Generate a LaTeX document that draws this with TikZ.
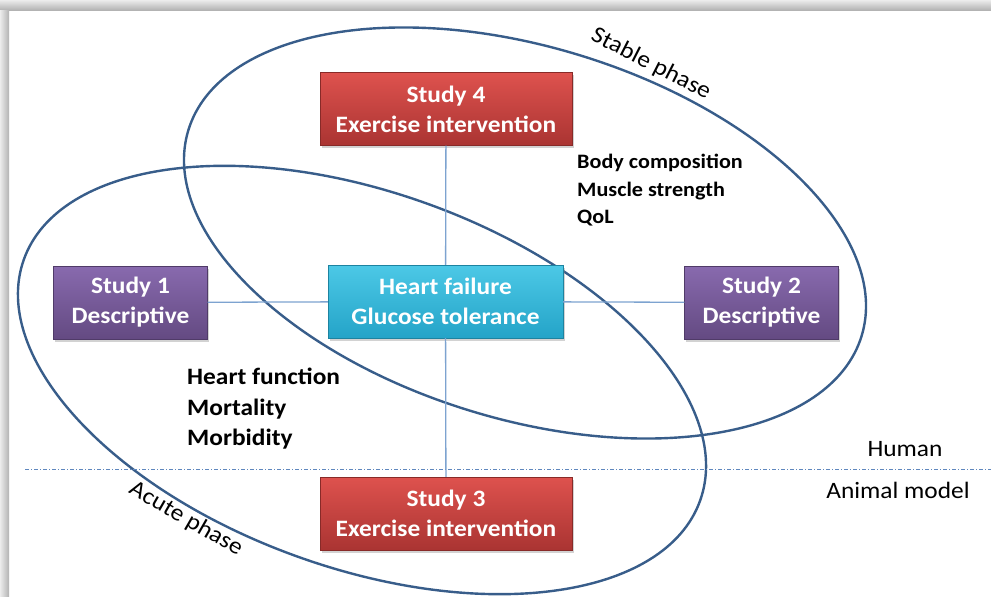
\documentclass[tikz,border=0pt]{standalone}
\usepackage{fontspec}
\setmainfont{Carlito}[FakeStretch=1.08]
\usepackage{tikz}
\usetikzlibrary{shadows}
\definecolor{ringblue}{RGB}{56,93,138}
\definecolor{linkblue}{RGB}{125,163,208}
\definecolor{splitblue}{RGB}{95,135,190}
\definecolor{redtop}{RGB}{222,82,78}
\definecolor{redbot}{RGB}{170,52,50}
\definecolor{purtop}{RGB}{136,106,174}
\definecolor{purbot}{RGB}{100,74,130}
\definecolor{cyantop}{RGB}{76,200,230}
\definecolor{cyanbot}{RGB}{36,164,200}
\tikzstyle{boxed} = [text=white,font=\fontsize{23.5}{30}\selectfont\bfseries,align=center,minimum height=73pt,inner sep=0pt,drop shadow={shadow xshift=1.5pt,shadow yshift=-2.5pt,opacity=0.35}]
\tikzstyle{exer} = [boxed,draw=redbot!80!black,top color=redtop,bottom color=redbot,minimum width=252pt]
\tikzstyle{desc} = [boxed,draw=purbot!80!black,top color=purtop,bottom color=purbot,minimum width=154pt]
\tikzstyle{hub} = [boxed,draw=cyanbot!80!black,top color=cyantop,bottom color=cyanbot,minimum width=235pt]
\tikzstyle{ring} = [draw=ringblue,line width=2.4pt]
\tikzstyle{link} = [draw=linkblue,line width=1.3pt]
\tikzstyle{outcome} = [align=left,anchor=north west,inner sep=0pt]
\tikzstyle{plain} = [font=\fontsize{23.5}{28}\selectfont]

\begin{document}
\begin{tikzpicture}[x=1pt,y=-1pt]

% page and frame
    \useasboundingbox (0,0) rectangle (991,597);
    \fill[white] (0,0) rectangle (991,597);
    \shade[top color=gray!15,bottom color=gray!60] (0,0) rectangle (991,10);
    \shade[left color=gray!15,right color=gray!60] (0,10) rectangle (9,597);

% phases
    \draw[ring,rotate around={-17:(525,233)}] (525,233) ellipse (352 and 186);
    \draw[ring,rotate around={-19.6:(362,380)}] (362,380) ellipse (359 and 188);
    \node[plain,rotate=-27] at (651,64) (stable) {Stable phase};
    \node[plain,rotate=-30] at (186,519) (acute) {Acute phase};

% human / animal split
    \coordinate (splitw) at (25,469);
    \coordinate (splite) at (991,469);
    \draw[splitblue,line width=0.9pt,dash pattern=on 4pt off 2pt on 1pt off 2pt] (splitw) -- (splite);
    \node[plain] at (905,449) (human) {Human};
    \node[plain] at (898,490) (animal) {Animal model};

% studies
    \node[hub] at (445.5,301.5) (hf) {Heart failure\\Glucose tolerance};
    \node[exer] at (446,109) (s4) {Study 4\\Exercise intervention};
    \node[exer] at (446,513.5) (s3) {Study 3\\Exercise intervention};
    \node[desc] at (130.5,302.5) (s1) {Study 1\\Descriptive};
    \node[desc] at (761.5,302.5) (s2) {Study 2\\Descriptive};

    % join up
    \draw[link] (s4) -- (hf);
    \draw[link] (hf) -- (s3);
    \draw[link] (s1) -- (hf);
    \draw[link] (hf) -- (s2);

% outcomes
    \node[outcome,font=\fontsize{20.5}{27.5}\selectfont\bfseries] at (577,154) (stableout) {Body composition\\Muscle strength\\QoL};
    \node[outcome,font=\fontsize{23.5}{30.5}\selectfont\bfseries] at (187,368) (acuteout) {Heart function\\Mortality\\Morbidity};

\end{tikzpicture}
\end{document}
